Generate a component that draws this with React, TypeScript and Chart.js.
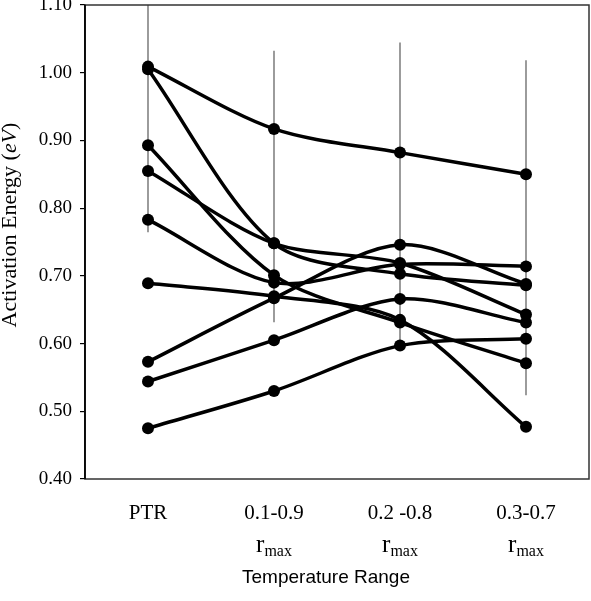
import React, { useEffect, useRef } from "react";
import { Chart, registerables } from "chart.js";

Chart.register(...registerables);

// Categories (temperature range)
const categories = ["PTR", "0.1-0.9", "0.2 -0.8", "0.3-0.7"];
const subMain = ["", "r", "r", "r"];
const subScript = ["", "max", "max", "max"];

// Activation energy series (eV)
const series1 = [1.009, 0.917, 0.882, 0.85];
const series2 = [1.005, 0.748, 0.703, 0.686];
const series3 = [0.893, 0.701, 0.631, 0.571];
const series4 = [0.855, 0.748, 0.719, 0.643];
const series5 = [0.783, 0.69, 0.717, 0.714];
const series6 = [0.689, 0.67, 0.635, 0.477];
const series7 = [0.573, 0.667, 0.746, 0.688];
const series8 = [0.544, 0.605, 0.666, 0.631];
const series9 = [0.475, 0.53, 0.597, 0.607];
const allSeries = [series1, series2, series3, series4, series5, series6, series7, series8, series9];

// Error bar extents (gray vertical lines)
const errLow = [0.765, 0.632, 0.595, 0.524];
const errHigh = [1.12, 1.032, 1.044, 1.018];

// Y axis
const yMin = 0.4;
const yMax = 1.1;
const yStep = 0.1;

const yTitleMain = "Activation Energy (";
const yTitleItalic = "eV";
const yTitleEnd = ")";
const xTitle = "Temperature Range";

const decorPlugin = {
  id: "decor",
  afterDraw(chart: any) {
    const { ctx, chartArea, scales } = chart;
    const xs = scales.x;
    ctx.save();
    // frame
    ctx.strokeStyle = "#333";
    ctx.lineWidth = 1.5;
    ctx.strokeRect(chartArea.left, chartArea.top, chartArea.right - chartArea.left, chartArea.bottom - chartArea.top);
    ctx.strokeStyle = "#000";
    ctx.beginPath();
    ctx.moveTo(chartArea.left, chartArea.top);
    ctx.lineTo(chartArea.left, chartArea.bottom);
    ctx.stroke();

    ctx.fillStyle = "#000";
    // x category labels
    categories.forEach((c, i) => {
      const x = xs.getPixelForValue(i);
      ctx.font = '21px "Liberation Serif"';
      ctx.textAlign = "center";
      ctx.textBaseline = "middle";
      ctx.fillText(c, x, chartArea.bottom + 34);
      if (subMain[i]) {
        ctx.textAlign = "left";
        ctx.textBaseline = "alphabetic";
        ctx.font = '25px "Liberation Serif"';
        const w1 = ctx.measureText(subMain[i]).width;
        ctx.font = '16px "Liberation Serif"';
        const w2 = ctx.measureText(subScript[i]).width;
        const start = x - (w1 + w2) / 2;
        ctx.font = '25px "Liberation Serif"';
        ctx.fillText(subMain[i], start, chartArea.bottom + 73);
        ctx.font = '16px "Liberation Serif"';
        ctx.fillText(subScript[i], start + w1, chartArea.bottom + 77);
      }
    });

    // x title
    ctx.font = '19px "Liberation Sans"';
    ctx.textAlign = "center";
    ctx.textBaseline = "middle";
    ctx.fillText(xTitle, (chartArea.left + chartArea.right) / 2 - 11, chartArea.bottom + 99);

    // y title (rotated, with italic eV)
    ctx.translate(10, (chartArea.top + chartArea.bottom) / 2 - 17);
    ctx.rotate(-Math.PI / 2);
    ctx.textBaseline = "middle";
    ctx.textAlign = "left";
    ctx.font = '22px "Liberation Serif"';
    const a = ctx.measureText(yTitleMain).width;
    const c = ctx.measureText(yTitleEnd).width;
    ctx.font = 'italic 22px "Liberation Serif"';
    const b = ctx.measureText(yTitleItalic).width;
    let sx = -(a + b + c) / 2;
    ctx.font = '22px "Liberation Serif"';
    ctx.fillText(yTitleMain, sx, 0);
    sx += a;
    ctx.font = 'italic 22px "Liberation Serif"';
    ctx.fillText(yTitleItalic, sx, 0);
    sx += b;
    ctx.font = '22px "Liberation Serif"';
    ctx.fillText(yTitleEnd, sx, 0);
    ctx.restore();
  },
};

export default function App() {
  const ref = useRef<HTMLCanvasElement>(null);
  useEffect(() => {
    if (!ref.current) return;
    const lineSets: any[] = allSeries.map((s, i) => ({
      type: "line",
      label: "S" + (i + 1),
      data: s,
      borderColor: "#000",
      backgroundColor: "#000",
      borderWidth: 3.5,
      pointRadius: 6,
      pointBackgroundColor: "#000",
      pointBorderWidth: 0,
      tension: 0.3,
      fill: false,
      order: 0,
    }));
    const errSet: any = {
      type: "bar",
      label: "err",
      data: errLow.map((l, i) => [l, errHigh[i]]),
      backgroundColor: "#9a9a9a",
      barThickness: 1.3,
      order: 10,
    };
    const chart = new Chart(ref.current, {
      type: "line",
      data: { labels: categories, datasets: [errSet, ...lineSets] },
      plugins: [decorPlugin],
      options: {
        animation: false,
        responsive: false,
        devicePixelRatio: 1,
        layout: { autoPadding: false, padding: { left: 0, right: 2, top: 5, bottom: 0 } },
        plugins: { legend: { display: false }, tooltip: { enabled: false } },
        scales: {
          x: {
            type: "category",
            offset: true,
            grid: { display: false },
            border: { display: false },
            ticks: { display: false },
            afterFit: (s: any) => {
              s.height = 122;
              s.paddingLeft = 0;
              s.paddingRight = 0;
            },
          },
          y: {
            min: yMin,
            max: yMax,
            grid: { drawOnChartArea: false, drawTicks: true, tickLength: 5, color: "#000", lineWidth: 1.2 },
            border: { display: true, color: "#000", width: 1.5 },
            ticks: {
              stepSize: yStep,
              padding: 8,
              color: "#000",
              font: { family: "Liberation Serif", size: 19 },
              callback: (v: any) => Number(v).toFixed(2),
            },
            afterFit: (s: any) => {
              s.width = 85;
              s.paddingTop = 0;
              s.paddingBottom = 0;
            },
          },
        },
      },
    });
    return () => chart.destroy();
  }, []);
  return (
    <div style={{ position: "fixed", left: 0, top: 0, width: 591, height: 601, background: "#fff" }}>
      <canvas ref={ref} width={591} height={601} />
    </div>
  );
}
